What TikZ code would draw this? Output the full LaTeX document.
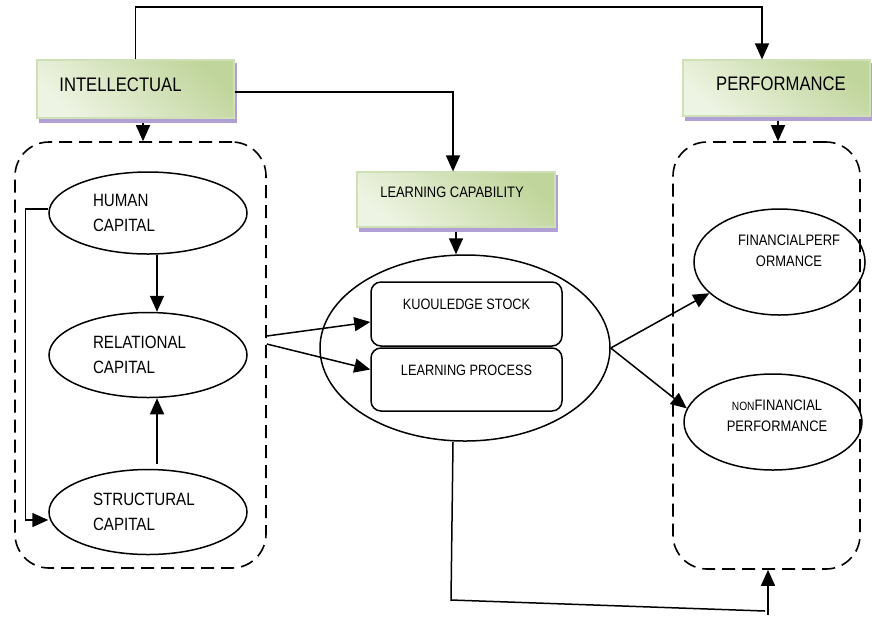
\documentclass[tikz,border=0pt]{standalone}
\usepackage{fontspec}
\setmainfont{Liberation Sans}[FakeStretch=0.85]
\usetikzlibrary{arrows.meta,shapes.geometric,backgrounds}

\definecolor{bannerdark}{RGB}{192,213,155}
\definecolor{bannerlight}{RGB}{238,244,227}
\definecolor{bannerline}{RGB}{208,224,182}
\definecolor{shadowpurple}{RGB}{176,160,214}

\begin{document}
\begin{tikzpicture}[x=0.5pt,y=-0.5pt,>={Triangle[length=8pt,width=7pt]},line width=0.75pt,
  banner/.style={rectangle, draw=bannerline, line width=0.6pt, inner sep=0pt,
    top color=bannerdark, bottom color=bannerlight, shading angle=-40,
    font=\fontsize{9.8}{11.8}\selectfont},
  group/.style={rectangle, draw, dash pattern=on 6.5pt off 3.5pt, rounded corners=17pt, line width=0.8pt},
  capital/.style={ellipse, draw, inner sep=0pt, minimum width=99pt, minimum height=42.5pt,
    text width=55pt, align=left, font=\fontsize{8.9}{12.5}\selectfont},
  result/.style={ellipse, draw, inner sep=0pt, font=\fontsize{7.6}{10.5}\selectfont},
  partbox/.style={rectangle, draw, rounded corners=5pt, minimum width=95.5pt, minimum height=32pt,
    font=\fontsize{7.5}{9}\selectfont}]

\useasboundingbox (0,0) rectangle (872,618);

%%%%%%%%%%%%%%%%%%%%%%%%%%%%%%%%%%%%%%%%%%
  % Dashed groups
  \node[group, minimum width=125.5pt, minimum height=213pt] (leftgroup) at (140.5,355) {};
  \node[group, minimum width=93.5pt, minimum height=213.5pt] (rightgroup) at (766.5,355.5) {};

  % Banners
  \node[banner, minimum width=98.5pt, minimum height=29pt] (intel) at (135.5,89)
    {\raisebox{2pt}[\height][\depth]{INTELLECTUAL}\hspace*{15pt}};
  \node[banner, minimum width=99pt, minimum height=27.5pt, font=\fontsize{7.6}{9}\selectfont] (lcap) at (456,199.5)
    {\raisebox{3.75pt}[\height][\depth]{LEARNING CAPABILITY}\hspace*{4pt}};
  \node[banner, minimum width=93.5pt, minimum height=28pt] (perf) at (776.5,88)
    {\hspace*{4.5pt}\raisebox{2pt}[\height][\depth]{PERFORMANCE}};

  % Banner shadows
  \begin{scope}[on background layer]
    \foreach \b in {intel,lcap,perf}
      \fill[shadowpurple] ([shift={(1.2pt,-2pt)}]\b.south west) rectangle ([shift={(1.2pt,-2pt)}]\b.north east);
  \end{scope}

%%%%%%%%%%%%%%%%%%%%%%%%%%%%%%%%%%%%%%%%%%
  % Intellectual capital
  \node[capital, minimum height=41pt] (human) at (148,213) {HUMAN\\CAPITAL};
  \node[capital] (relational) at (148,355) {RELATIONAL\\CAPITAL};
  \node[capital] (structural) at (148,512) {STRUCTURAL\\CAPITAL};

  % Learning capability
  \node[ellipse, draw, minimum width=145pt, minimum height=93pt] (lcell) at (465,348) {};
  \node[partbox] (kstock) at (466.5,314) {\raisebox{5pt}[\height][\depth]{KUOULEDGE STOCK}};
  \node[partbox, minimum height=31.5pt] (lproc) at (466.5,379.5) {\raisebox{4.75pt}[\height][\depth]{LEARNING PROCESS}};

  % Performance
  \node[result, minimum width=82.5pt, minimum height=53pt] (fin) at (779.5,262)
    {\hspace*{9.5pt}\raisebox{5pt}[\height][\depth]{\begin{tabular}{@{}c@{}}FINANCIALPERF\\ORMANCE\end{tabular}}};
  \node[result, minimum width=89pt, minimum height=48pt] (nonfin) at (773,422)
    {\hspace*{4pt}\raisebox{2.75pt}[\height][\depth]{\begin{tabular}{@{}c@{}}{\fontsize{6}{10.5}\selectfont NON}FINANCIAL\\PERFORMANCE\end{tabular}}};

%%%%%%%%%%%%%%%%%%%%%%%%%%%%%%%%%%%%%%%%%%
  % Top connectors
  \coordinate (topline) at (0,7);
  \draw[->] (intel.north) -- (intel.north |- topline) -| ([xshift=-7.25pt]perf.north);
  \draw[->] ([yshift=-1.5pt]intel.east) -| ([xshift=-1.5pt]lcap.north);
  \draw[->] ([xshift=3.75pt,yshift=-2pt]intel.south) -- ([xshift=3.75pt]intel.south |- leftgroup.north);
  \draw[->] ([xshift=0.75pt,yshift=-2pt]perf.south) -- ([xshift=0.75pt]perf.south |- rightgroup.north);
  \draw[->] ([yshift=-2pt]lcap.south) -- (lcap.south |- lcell.north);

  % Inside the left group
  \draw[->] ([xshift=4.5pt]human.south) -- ([xshift=4.5pt]relational.north);
  \draw[->] ([xshift=4.5pt,yshift=2.5pt]structural.north) -- ([xshift=4.5pt]relational.south);
  \draw[->] ([yshift=2pt]human.west) -- ++(-23,0) |- ([yshift=-4pt]structural.west);

  % Into learning capability
  \draw[->] ([yshift=9.5pt]leftgroup.east) -- ([yshift=-4pt]kstock.west);
  \draw[->] ([yshift=5.5pt]leftgroup.east) -- ([yshift=5pt]lproc.west);

  % Out to performance
  \draw[->] (lcell.east) -- (fin.204);
  \draw[->] (lcell.east) -- (nonfin.171);

  % Return line at the bottom
  \coordinate (bendleft) at (451,600);
  \coordinate (bendright) at (765,611);
  \coordinate (rise) at (768,615);
  \draw ([xshift=-6pt]lcell.south) -- (bendleft) -- (bendright);
  \draw[->] (rise) -- (rise |- rightgroup.south);

\end{tikzpicture}
\end{document}
